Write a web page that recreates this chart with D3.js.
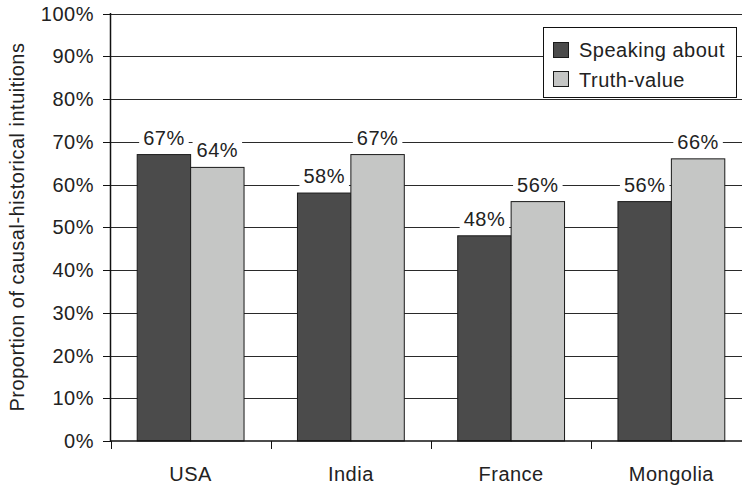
<!DOCTYPE html>
<html><head><meta charset="utf-8">
<script src="https://cdn.jsdelivr.net/npm/d3@7"></script>
<style>
html,body{margin:0;padding:0;background:#fff;}
svg{display:block;font-family:"Liberation Sans",Arial,sans-serif;}
svg text{letter-spacing:0.5px;}
</style></head>
<body>
<svg id="chart" width="742" height="488"></svg>
<script>
const categories = ["USA", "India", "France", "Mongolia"];
const seriesNames = ["Speaking about", "Truth-value"];
const speakingAbout = [0.67, 0.58, 0.48, 0.56];
const truthValue = [0.64, 0.67, 0.56, 0.66];
const yTicks = [0, 0.1, 0.2, 0.3, 0.4, 0.5, 0.6, 0.7, 0.8, 0.9, 1.0];
const colors = ["#4b4b4b", "#c5c6c5"];
const yTitle = "Proportion of causal-historical intuitions";

(function () {
const series = [speakingAbout, truthValue];
const svg = d3.select("#chart");
const pLeft = 110.5, pRight = 751.5, pTop = 13.5, pBottom = 441;

const x = d3.scaleBand().domain(categories).range([pLeft, pRight]).paddingInner(0).paddingOuter(0);
const bw = x.bandwidth();
const x1 = d3.scaleBand().domain([0, 1]).range([bw / 6, bw * 5 / 6]).padding(0);
const y = d3.scaleLinear().domain([0, 1]).range([pBottom, pTop]);

// gridlines
svg.append("g").selectAll("line").data(yTicks.filter(d => d > 0)).join("line")
  .attr("x1", pLeft).attr("x2", 742)
  .attr("y1", d => Math.round(y(d)) + 0.5).attr("y2", d => Math.round(y(d)) + 0.5)
  .attr("stroke", "#2a2a2a").attr("stroke-width", 1);

// bars
const groups = svg.append("g").selectAll("g").data(categories).join("g")
  .attr("transform", d => `translate(${x(d)},0)`);
groups.selectAll("rect").data((c, i) => series.map((s, k) => ({k, v: s[i]}))).join("rect")
  .attr("x", d => x1(d.k)).attr("width", x1.bandwidth())
  .attr("y", d => y(d.v)).attr("height", d => y(0) - y(d.v))
  .attr("fill", d => colors[d.k]).attr("stroke", "#1a1a1a").attr("stroke-width", 1);

// data labels with white background
const labelG = svg.append("g");
categories.forEach((c, i) => {
  series.forEach((s, k) => {
    const cx = x(c) + x1(k) + x1.bandwidth() / 2;
    const by = y(s[i]) - 10;
    const g = labelG.append("g");
    const t = g.append("text").attr("x", cx).attr("y", by).attr("text-anchor", "middle")
      .attr("font-size", 20).attr("fill", "#222").text(Math.round(s[i] * 100) + "%");
    const bb = t.node().getBBox();
    g.insert("rect", "text").attr("x", bb.x - 4).attr("y", bb.y).attr("width", bb.width + 8)
      .attr("height", bb.height).attr("fill", "#fff");
  });
});

// y axis
const yAxis = svg.append("g");
yAxis.append("line").attr("x1", pLeft).attr("x2", pLeft).attr("y1", pTop - 0.5).attr("y2", pBottom + 1)
  .attr("stroke", "#111").attr("stroke-width", 1.5);
yAxis.selectAll("line.tick").data(yTicks).join("line").attr("class", "tick")
  .attr("x1", 103).attr("x2", pLeft).attr("y1", d => Math.round(y(d)) + 0.5).attr("y2", d => Math.round(y(d)) + 0.5)
  .attr("stroke", "#111").attr("stroke-width", 1);
yAxis.selectAll("text").data(yTicks).join("text")
  .attr("x", 94).attr("y", d => y(d)).attr("dy", "0.36em").attr("text-anchor", "end")
  .attr("font-size", 20).attr("fill", "#222").text(d => Math.round(d * 100) + "%");

// x axis
const xAxis = svg.append("g");
xAxis.append("line").attr("x1", pLeft).attr("x2", 742).attr("y1", pBottom).attr("y2", pBottom)
  .attr("stroke", "#111").attr("stroke-width", 1.5);
const bounds = categories.map(c => x(c)).concat([pRight]);
xAxis.selectAll("line.tick").data(bounds).join("line").attr("class", "tick")
  .attr("x1", d => Math.round(d) + 0.5).attr("x2", d => Math.round(d) + 0.5)
  .attr("y1", pBottom).attr("y2", pBottom + 8).attr("stroke", "#111").attr("stroke-width", 1);
xAxis.selectAll("text").data(categories).join("text")
  .attr("x", d => x(d) + bw / 2).attr("y", 481).attr("text-anchor", "middle")
  .attr("font-size", 20).attr("fill", "#222").text(d => d);

// y title
svg.append("text").attr("transform", "translate(24,227) rotate(-90)")
  .attr("text-anchor", "middle").attr("font-size", 20).attr("fill", "#222").text(yTitle);

// legend
const lg = svg.append("g");
lg.append("rect").attr("x", 543.5).attr("y", 27.5).attr("width", 193).attr("height", 70)
  .attr("fill", "#fff").attr("stroke", "#111").attr("stroke-width", 1);
seriesNames.forEach((n, k) => {
  lg.append("rect").attr("x", 553.5).attr("y", 42.5 + k * 29).attr("width", 15).attr("height", 15)
    .attr("fill", colors[k]).attr("stroke", "#1a1a1a");
  lg.append("text").attr("x", 579).attr("y", 57 + k * 29.5).attr("font-size", 20).attr("fill", "#222").text(n);
});
})();
</script>
</body></html>
